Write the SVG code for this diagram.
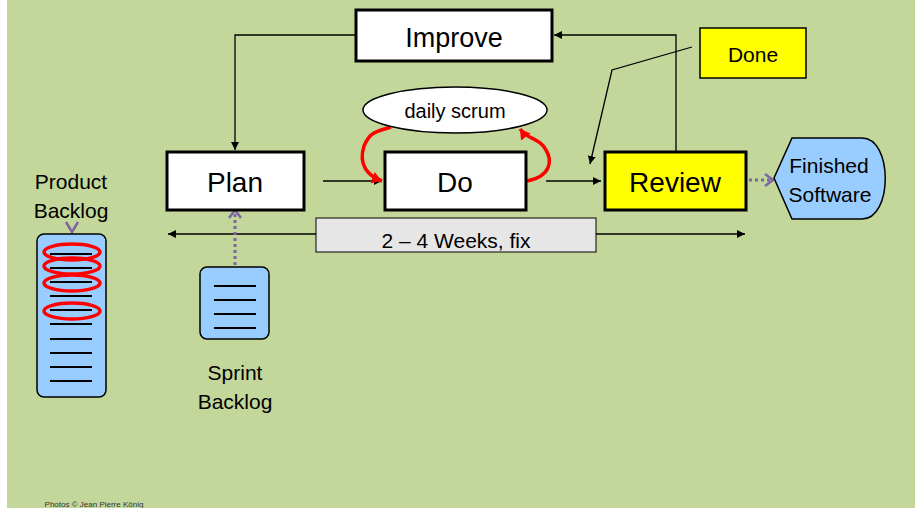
<svg xmlns="http://www.w3.org/2000/svg" width="915" height="508" viewBox="0 0 915 508">
<defs>
<style>
text{font-family:"Liberation Sans",Arial,sans-serif;fill:#000;text-anchor:middle}
.big{font-size:28px}
.mid{font-size:21px}
.box{fill:#fff;stroke:#000;stroke-width:3}
.ybox{fill:#ffff00;stroke:#000;stroke-width:3}
.conn{fill:none;stroke:#000;stroke-width:1.3}
.red{fill:none;stroke:#ff0000;stroke-width:3.5}
.purple{fill:none;stroke:#8064a2;stroke-width:3;stroke-dasharray:3 3}
.blue{fill:#99ccff;stroke:#000;stroke-width:1.5}
.line{stroke:#000;stroke-width:2}
</style>
<marker id="ah" markerWidth="10" markerHeight="10" refX="8" refY="5" orient="auto" markerUnits="userSpaceOnUse">
<path d="M0,1 L8,5 L0,9 Z" fill="#000"/>
</marker>
<marker id="rh" markerWidth="14" markerHeight="14" refX="10" refY="7" orient="auto" markerUnits="userSpaceOnUse">
<path d="M0,1 L10,7 L0,13 Z" fill="#ff0000"/>
</marker>
<marker id="ph" markerWidth="14" markerHeight="14" refX="9" refY="7" orient="auto" markerUnits="userSpaceOnUse">
<path d="M1,1 L9,7 L1,13" fill="none" stroke="#8064a2" stroke-width="2.5"/>
</marker>
</defs>
<rect x="0" y="0" width="915" height="508" fill="#ffffff"/>
<rect x="7" y="0" width="908" height="508" fill="#c4d79b"/>

<g id="connectors">
<path class="conn" d="M356,35 H235 V150" marker-end="url(#ah)"/>
<path class="conn" d="M676,152 V35 H554" marker-end="url(#ah)"/>
<path class="conn" d="M692,47 L612,70 L590,164" marker-end="url(#ah)"/>
<path class="conn" d="M323,181 H382" marker-end="url(#ah)"/>
<path class="conn" d="M546,181 H601" marker-end="url(#ah)"/>
<path class="conn" d="M316,234 H168" marker-end="url(#ah)"/>
<path class="conn" d="M596,234 H745" marker-end="url(#ah)"/>
<path class="red" d="M391,127 C375,132 370,132 364,146 C358,165 368,176 382,181" marker-end="url(#rh)"/>
<path class="red" d="M527,181 C552,176 552,160 546,150 C540,138 528,140 520,129" marker-end="url(#rh)"/>
<path class="purple" d="M235,265 V210" marker-end="url(#ph)"/>
<path class="purple" d="M749,180 H773" marker-end="url(#ph)"/>
<path d="M66,222 L72,232 L78,222" fill="none" stroke="#8064a2" stroke-width="2.5"/>
</g>

<g id="improve">
<rect class="box" x="356" y="10" width="196" height="51"/>
<text class="big" x="454" y="47" style="font-size:27px">Improve</text>
</g>

<g id="done">
<rect x="700" y="28" width="106" height="50" fill="#ffff00" stroke="#000" stroke-width="1.5"/>
<text class="mid" x="753" y="62">Done</text>
</g>

<g id="daily-scrum">
<ellipse cx="455" cy="110" rx="92" ry="23" fill="#fff" stroke="#000" stroke-width="1.5"/>
<text class="mid" x="455" y="118" style="font-size:20px">daily scrum</text>
</g>

<g id="plan">
<rect class="box" x="167" y="152" width="137" height="58"/>
<text class="big" x="235" y="192">Plan</text>
</g>

<g id="do">
<rect class="box" x="385" y="152" width="141" height="58"/>
<text class="big" x="455" y="192">Do</text>
</g>

<g id="review">
<rect class="ybox" x="605" y="152" width="141" height="58"/>
<text class="big" x="675" y="192">Review</text>
</g>

<g id="finished-software">
<path class="blue" d="M792,138 H862 C893,138 893,219 862,219 H792 L774,178 Z"/>
<text class="mid" x="829" y="173">Finished</text>
<text class="mid" x="830" y="202">Software</text>
</g>

<g id="weeks">
<rect x="316" y="218" width="280" height="34" fill="#e6e6e6" stroke="#000" stroke-width="1"/>
<text class="mid" x="456" y="248">2 – 4 Weeks, fix</text>
</g>

<g id="sprint-backlog">
<rect class="blue" x="200" y="267" width="69" height="72" rx="7"/>
<line class="line" x1="214" y1="286" x2="256" y2="286"/>
<line class="line" x1="214" y1="300" x2="256" y2="300"/>
<line class="line" x1="214" y1="314" x2="256" y2="314"/>
<line class="line" x1="214" y1="328" x2="256" y2="328"/>
<text class="mid" x="235" y="380">Sprint</text>
<text class="mid" x="235" y="409">Backlog</text>
</g>

<g id="product-backlog">
<text class="mid" x="71" y="189">Product</text>
<text class="mid" x="71" y="218">Backlog</text>
<rect class="blue" x="37" y="234" width="69" height="163" rx="7"/>
<line class="line" x1="50" y1="254" x2="92" y2="254"/>
<line class="line" x1="50" y1="268" x2="92" y2="268"/>
<line class="line" x1="50" y1="282" x2="92" y2="282"/>
<line class="line" x1="50" y1="296" x2="92" y2="296"/>
<line class="line" x1="50" y1="310" x2="92" y2="310"/>
<line class="line" x1="50" y1="324" x2="92" y2="324"/>
<line class="line" x1="50" y1="339" x2="92" y2="339"/>
<line class="line" x1="50" y1="353" x2="92" y2="353"/>
<line class="line" x1="50" y1="367" x2="92" y2="367"/>
<line class="line" x1="50" y1="381" x2="92" y2="381"/>
<ellipse class="red" cx="72" cy="252" rx="28" ry="8"/>
<ellipse class="red" cx="72" cy="266" rx="28" ry="8"/>
<ellipse class="red" cx="72" cy="283" rx="28" ry="8"/>
<ellipse class="red" cx="72" cy="311" rx="28" ry="8"/>
</g>

<text x="94" y="507" style="font-size:8px;fill:#333">Photos © Jean Pierre König</text>
</svg>
